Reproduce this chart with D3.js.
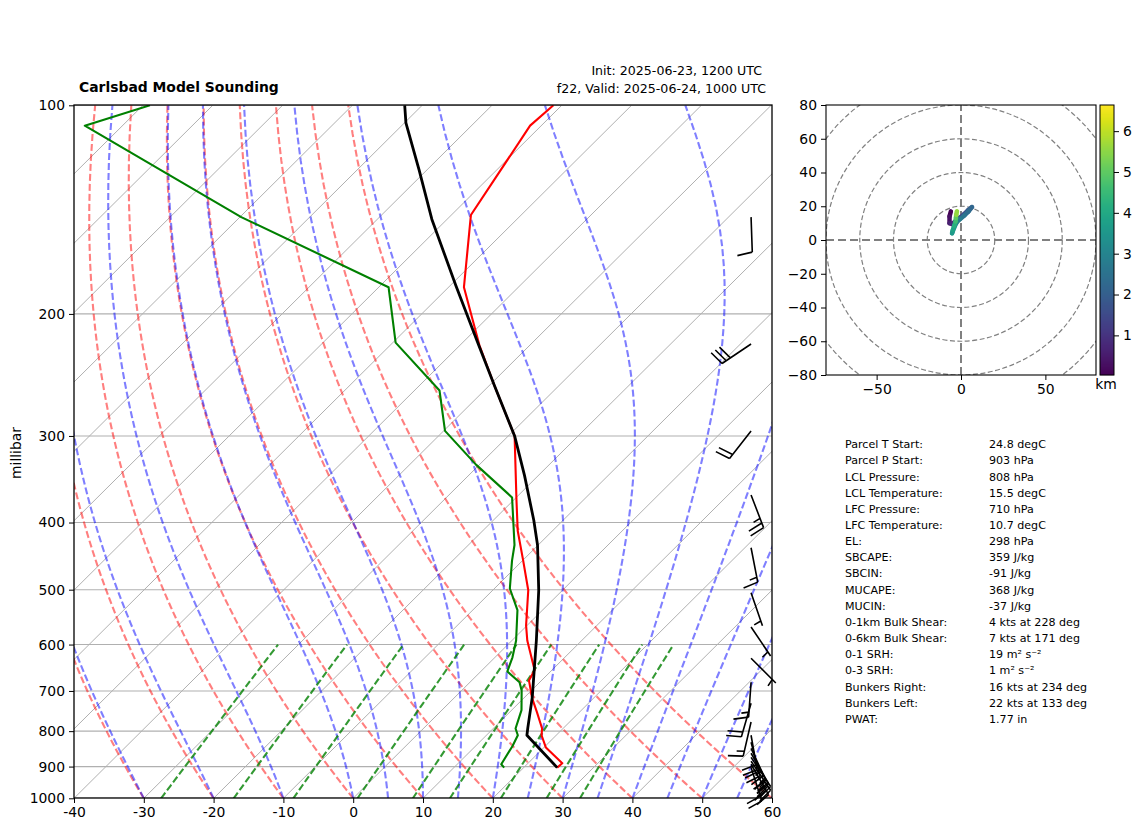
<!DOCTYPE html>
<html>
<head>
<meta charset="utf-8">
<script src="https://cdn.jsdelivr.net/npm/d3@7"></script>
<style>
  html, body { margin: 0; background: #fff; }
  svg { display: block; }
  text { font-family: "DejaVu Sans", sans-serif; fill: #000; }
</style>
</head>
<body>
<div id="chart"></div>
<script>
// sounding
const tempP = [903, 890, 845, 811, 793, 751, 717, 676, 653, 592, 563, 501, 454, 411, 372, 300, 254, 222, 183, 144, 107, 100]
const tempT = [24.8, 24.9, 20.3, 17.9, 17.0, 13.9, 11.2, 8.2, 7.5, 2.2, -0.15, -4.9, -9.9, -15.0, -19.5, -29.1, -39.2, -47.2, -57.8, -67.2, -71.6, -71.2]

const dewP = [903, 893, 841, 811, 793, 746, 699, 680, 656, 626, 592, 535, 498, 454, 431, 368, 330, 295, 258, 220, 183, 145, 107, 100]
const dewT = [17.2, 16.3, 15.3, 14.5, 13.2, 11.4, 8.6, 7.1, 3.8, 2.5, 0.6, -3.6, -7.8, -11.5, -13.4, -20.6, -30.5, -39.8, -46.4, -59.6, -68.6, -99.8, -135.4, -129.0]

const parcelP = [903, 811, 790, 715, 592, 501, 431, 397, 342, 300, 254, 222, 182, 146, 124, 106, 100]
const parcelT = [24.8, 15.8, 14.8, 11.1, 3.5, -3.4, -10.1, -14.2, -22.0, -29.1, -39.2, -47.3, -59.2, -72.2, -81.1, -89.8, -92.5]

// wind barbs
const barbP = [145, 221, 295, 365, 435, 505, 566, 628, 680, 729, 776, 811, 830, 847, 861, 873, 884, 893, 903]
const barbSpeed = [10, 30, 20, 25, 15, 5, 5, 5, 15, 20, 15, 20, 20, 25, 25, 25, 25, 25, 20]
const barbDir = [178, 236, 218, 159, 169, 161, 146, 135, 184, 196, 193, 170, 165, 155, 150, 146, 146, 150, 162]

// hodograph
const hodoU = [-6, -6.8, -6.8, -5.5, -3.5, -1, 1.5, 4, 6.5, 4.5, 2, -0.5, -2.5, -4, -5.3, -4.8, -4, -3.2, -3, -2.8, -2.4]
const hodoV = [17, 14, 10, 9.5, 11, 13, 15, 17.5, 19.5, 17, 14.5, 12.5, 10.5, 7.5, 4, 6, 8.5, 11, 13, 15, 17]
const hodoH = [0.05, 0.3, 0.6, 0.8, 1.0, 1.3, 1.6, 1.9, 2.2, 2.4, 2.6, 2.8, 3.0, 3.3, 3.6, 3.9, 4.2, 4.6, 5.0, 5.6, 6.6]

const pressureTicks = [100, 200, 300, 400, 500, 600, 700, 800, 900, 1000]
const tempTicks = [-40, -30, -20, -10, 0, 10, 20, 30, 40, 50, 60]
const hodoXTicks = [-50, 0, 50]
const hodoYTicks = [-80, -60, -40, -20, 0, 20, 40, 60, 80]
const hodoRings = [20, 40, 60, 80, 100]
const barTicks = [1, 2, 3, 4, 5, 6]

// reference line families, each one labelled by its value at 1000 hPa
const isotherms = d3.range(-130, 70, 10)
const dryThetas = [-30, -20, -10, 0, 10, 20, 30, 40, 50, 60]
const moistStarts = [-30, -20, -10, 0, 5, 10, 15, 20, 25, 30, 35, 40, 45, 50, 55, 60]
const mixRatios = [0.0004, 0.001, 0.002, 0.004, 0.007, 0.01, 0.016, 0.024, 0.032]

const tableLabels = ["Parcel T Start:", "Parcel P Start:", "LCL Pressure:", "LCL Temperature:", "LFC Pressure:", "LFC Temperature:", "EL:", "SBCAPE:", "SBCIN:", "MUCAPE:", "MUCIN:", "0-1km Bulk Shear:", "0-6km Bulk Shear:", "0-1 SRH:", "0-3 SRH:", "Bunkers Right:", "Bunkers Left:", "PWAT:"]
const tableValues = ["24.8 degC", "903 hPa", "808 hPa", "15.5 degC", "710 hPa", "10.7 degC", "298 hPa", "359 J/kg", "-91 J/kg", "368 J/kg", "-37 J/kg", "4 kts at 228 deg", "7 kts at 171 deg", "19 m² s⁻²", "1 m² s⁻²", "16 kts at 234 deg", "22 kts at 133 deg", "1.77 in"]

const width = 1142
const height = 832
const skew = 1.006

const x = d3.scaleLinear().domain([-40, 60]).range([74, 772])
const y = d3.scaleLog().domain([1000, 100]).range([798.3, 105.3])
const sx = (t, p) => x(t) + skew * (y(1000) - y(p))

const svg = d3.select("#chart").append("svg")
  .attr("width", width)
  .attr("height", height)

svg.append("clipPath").attr("id", "skew-clip")
  .append("rect")
  .attr("x", 74).attr("y", 105).attr("width", 698).attr("height", 693)

const plot = svg.append("g").attr("clip-path", "url(#skew-clip)")
const line = d3.line().x(d => sx(d[0], d[1])).y(d => y(d[1]))

// horizontal and skewed grid
plot.selectAll(".pgrid")
  .data(pressureTicks)
  .enter().append("line")
  .attr("x1", 74).attr("x2", 772)
  .attr("y1", d => y(d)).attr("y2", d => y(d))
  .attr("stroke", "#b0b0b0").attr("stroke-width", 1.1)

plot.selectAll(".tgrid")
  .data(isotherms)
  .enter().append("path")
  .attr("d", d => line([[d, 1000], [d, 100]]))
  .attr("stroke", "#b0b0b0").attr("stroke-width", 1).attr("fill", "none")

// thermodynamics for the background lines
const levels = d3.range(1000, 99, -10)
const mixLevels = d3.range(1000, 599, -10)
const Rd = 287.05, Cp = 1005.7, Lv = 2501000, eps = 0.62198

function satMix(tk, p) {
  const es = 6.112 * Math.exp(17.67 * (tk - 273.15) / (tk - 29.65))
  return eps * es / (p - es)
}

function moistCurve(t0) {
  const grad = (tk, p) => {
    const rs = satMix(tk, p)
    return (Rd * tk + Lv * rs) / (Cp + Lv * Lv * rs * eps / (Rd * tk * tk)) / p
  }
  let tk = t0 + 273.15
  const pts = [[t0, 1000]]
  for (let i = 1; i < levels.length; i++) {
    const p = levels[i - 1], h = levels[i] - p
    const k1 = grad(tk, p)
    const k2 = grad(tk + k1 * h / 2, p + h / 2)
    const k3 = grad(tk + k2 * h / 2, p + h / 2)
    const k4 = grad(tk + k3 * h, p + h)
    tk += h * (k1 + 2 * k2 + 2 * k3 + k4) / 6
    pts.push([tk - 273.15, levels[i]])
  }
  return pts
}

function dewFromMix(w, p) {
  const l = Math.log(p * w / (eps + w) / 6.112)
  return 243.5 * l / (17.67 - l)
}

plot.selectAll(".dry")
  .data(dryThetas)
  .enter().append("path")
  .attr("d", d => line(levels.map(p => [(d + 273.15) * Math.pow(p / 1000, 0.2857) - 273.15, p])))
  .attr("fill", "none").attr("stroke", "red").attr("stroke-opacity", 0.5)
  .attr("stroke-width", 2.1).attr("stroke-dasharray", "7,3")

plot.selectAll(".moist")
  .data(moistStarts)
  .enter().append("path")
  .attr("d", d => line(moistCurve(d)))
  .attr("fill", "none").attr("stroke", "blue").attr("stroke-opacity", 0.5)
  .attr("stroke-width", 2.1).attr("stroke-dasharray", "7,3")

plot.selectAll(".mix")
  .data(mixRatios)
  .enter().append("path")
  .attr("d", d => line(mixLevels.map(p => [dewFromMix(d, p), p])))
  .attr("fill", "none").attr("stroke", "green").attr("stroke-opacity", 0.8)
  .attr("stroke-width", 2.1).attr("stroke-dasharray", "7,3")

// profiles
const profiles = [
  { p: tempP, t: tempT, color: "red" },
  { p: dewP, t: dewT, color: "green" },
  { p: parcelP, t: parcelT, color: "black" }
]
plot.selectAll(".profile")
  .data(profiles)
  .enter().append("path")
  .attr("d", d => line(d.p.map((v, i) => [d.t[i], v])))
  .attr("fill", "none").attr("stroke", d => d.color)
  .attr("stroke-width", d => d.color == "black" ? 2.8 : 2.1)
  .attr("stroke-linejoin", "round")

// barbs sit on a fixed column near the right edge
const barbX = 74 + 0.97 * 698
const stemLen = 35

function barbPath(speed, dir) {
  const a = dir * Math.PI / 180
  const s = [Math.sin(a), -Math.cos(a)]
  const n = [-s[1], s[0]]
  const at = (along, side) => [s[0] * along + n[0] * side, s[1] * along + n[1] * side]
  const path = d3.path()
  let tip = at(stemLen, 0)
  path.moveTo(0, 0)
  path.lineTo(tip[0], tip[1])
  let rest = Math.round(speed / 5) * 5
  let along = stemLen
  if (rest < 10) along -= 5
  while (rest >= 5) {
    const full = rest >= 10
    const end = at(along + (full ? 3 : 1.5), full ? 15 : 7.5)
    const start = at(along, 0)
    path.moveTo(start[0], start[1])
    path.lineTo(end[0], end[1])
    rest -= full ? 10 : 5
    along -= 5
  }
  return path.toString()
}

svg.selectAll(".barb")
  .data(barbP)
  .enter().append("path")
  .attr("transform", d => `translate(${barbX},${y(d)})`)
  .attr("d", (d, i) => barbPath(barbSpeed[i], barbDir[i]))
  .attr("fill", "none").attr("stroke", "#000").attr("stroke-width", 1.6)

// skew axes
svg.append("rect")
  .attr("x", 74).attr("y", 105).attr("width", 698).attr("height", 693)
  .attr("fill", "none").attr("stroke", "#000").attr("stroke-width", 1.3)

const styleAxis = g => {
  g.select(".domain").remove()
  g.selectAll("text").attr("font-size", 13.9)
  g.selectAll(".tick line").attr("stroke", "#000").attr("stroke-width", 1)
}

svg.append("g")
  .attr("transform", "translate(0,798)")
  .call(d3.axisBottom(x).tickValues(tempTicks).tickFormat(d => d).tickSize(5).tickPadding(4))
  .call(styleAxis)

svg.append("g")
  .attr("transform", "translate(74,0)")
  .call(d3.axisLeft(y).tickValues(pressureTicks).tickFormat(d => d).tickSize(5).tickPadding(4))
  .call(styleAxis)

svg.append("text")
  .attr("transform", "translate(21,453) rotate(-90)")
  .attr("text-anchor", "middle").attr("font-size", 13.9)
  .text("millibar")

svg.append("text")
  .attr("x", 79).attr("y", 92)
  .attr("font-size", 13.9).attr("font-weight", "bold")
  .text("Carlsbad Model Sounding")

svg.append("text")
  .attr("x", 762).attr("y", 75).attr("text-anchor", "end").attr("font-size", 12.6)
  .text("Init: 2025-06-23, 1200 UTC")

svg.append("text")
  .attr("x", 766).attr("y", 92.5).attr("text-anchor", "end").attr("font-size", 12.6)
  .text("f22, Valid: 2025-06-24, 1000 UTC")

// hodograph
const hx = d3.scaleLinear().domain([-80, 80]).range([826, 1096])
const hy = d3.scaleLinear().domain([-80, 80]).range([375, 105])

svg.append("clipPath").attr("id", "hodo-clip")
  .append("rect")
  .attr("x", 826).attr("y", 105).attr("width", 270).attr("height", 270)

const hodo = svg.append("g").attr("clip-path", "url(#hodo-clip)")

hodo.selectAll(".ring")
  .data(hodoRings)
  .enter().append("circle")
  .attr("cx", hx(0)).attr("cy", hy(0))
  .attr("r", d => hx(d) - hx(0))
  .attr("fill", "none").attr("stroke", "#808080").attr("stroke-width", 1.2)
  .attr("stroke-dasharray", "5,2.5")

hodo.append("line")
  .attr("x1", hx(-80)).attr("x2", hx(80)).attr("y1", hy(0)).attr("y2", hy(0))
  .attr("stroke", "#808080").attr("stroke-width", 2).attr("stroke-dasharray", "8,4")

hodo.append("line")
  .attr("x1", hx(0)).attr("x2", hx(0)).attr("y1", hy(-80)).attr("y2", hy(80))
  .attr("stroke", "#808080").attr("stroke-width", 2).attr("stroke-dasharray", "8,4")

const barColor = d3.scaleSequential(d3.interpolateViridis).domain([0.03, 6.64])

hodo.selectAll(".seg")
  .data(hodoH.slice(1))
  .enter().append("line")
  .attr("x1", (d, i) => hx(hodoU[i]))
  .attr("y1", (d, i) => hy(hodoV[i]))
  .attr("x2", (d, i) => hx(hodoU[i + 1]))
  .attr("y2", (d, i) => hy(hodoV[i + 1]))
  .attr("stroke", (d, i) => barColor(hodoH[i]))
  .attr("stroke-width", 4.5)
  .attr("stroke-linecap", "round")

svg.append("rect")
  .attr("x", 826).attr("y", 105).attr("width", 270).attr("height", 270)
  .attr("fill", "none").attr("stroke", "#000").attr("stroke-width", 1.1)

svg.append("g")
  .attr("transform", "translate(0,375)")
  .call(d3.axisBottom(hx).tickValues(hodoXTicks).tickFormat(d => d < 0 ? "−" + (-d) : d).tickSize(5).tickPadding(4))
  .call(styleAxis)

svg.append("g")
  .attr("transform", "translate(826,0)")
  .call(d3.axisLeft(hy).tickValues(hodoYTicks).tickFormat(d => d < 0 ? "−" + (-d) : d).tickSize(5).tickPadding(4))
  .call(styleAxis)

// colour bar
const barY = d3.scaleLinear().domain([0.03, 6.64]).range([375, 105])

svg.selectAll(".barcell")
  .data(d3.range(270))
  .enter().append("rect")
  .attr("x", 1100).attr("width", 14)
  .attr("y", d => 105 + d).attr("height", 1.2)
  .attr("fill", d => barColor(barY.invert(105 + d + 0.5)))

svg.append("rect")
  .attr("x", 1100).attr("y", 105).attr("width", 14).attr("height", 270)
  .attr("fill", "none").attr("stroke", "#000").attr("stroke-width", 1)

svg.append("g")
  .attr("transform", "translate(1114,0)")
  .call(d3.axisRight(barY).tickValues(barTicks).tickFormat(d => d).tickSize(5).tickPadding(4))
  .call(styleAxis)

svg.append("text")
  .attr("x", 1106).attr("y", 389).attr("text-anchor", "middle").attr("font-size", 13.9)
  .text("km")

// parcel table
const rowY = d3.scaleLinear().domain([0, 17]).range([448.3, 722.8])

svg.selectAll(".tlabel")
  .data(tableLabels)
  .enter().append("text")
  .attr("x", 845).attr("y", (d, i) => rowY(i))
  .attr("font-size", 11.1)
  .text(d => d)

svg.selectAll(".tvalue")
  .data(tableValues)
  .enter().append("text")
  .attr("x", 989).attr("y", (d, i) => rowY(i))
  .attr("font-size", 11.1)
  .text(d => d)
</script>
</body>
</html>
